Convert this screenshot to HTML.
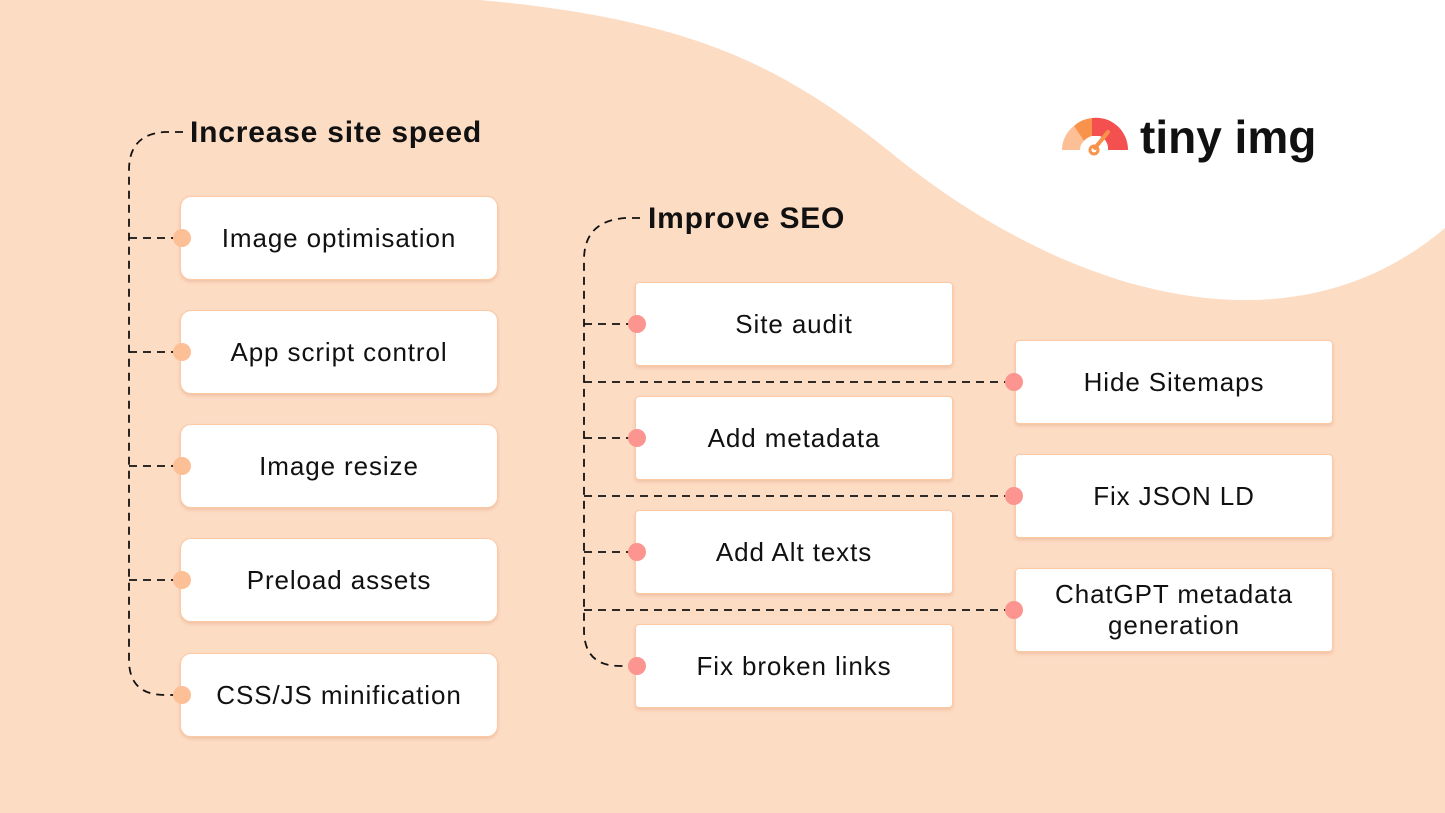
<!DOCTYPE html>
<html><head><meta charset="utf-8"><style>
body{margin:0;width:1445px;height:813px;overflow:hidden;background:#FDDCC4;font-family:"Liberation Sans",sans-serif;position:relative}
svg{position:absolute;left:0;top:0}
.b{position:absolute;background:#fff;width:318px;height:84px;display:flex;align-items:center;justify-content:center;text-align:center;font-size:26px;letter-spacing:0.9px;color:#111;box-shadow:0 2px 3px rgba(200,120,70,.25);border:1px solid #fbc9a4;box-sizing:border-box;line-height:31px}
.l{border-radius:11px}.r{border-radius:4px}
.h{position:absolute;font-size:30px;font-weight:bold;color:#111;letter-spacing:0.8px}
.d{position:absolute;width:18px;height:18px;border-radius:50%}
.o{background:#FDBF96}.p{background:#FC9490}
</style></head><body>
<svg width="1445" height="813">
<path d="M480,0 C700,20 790,70 900,160 C1070,295 1290,360 1445,228 L1445,0 Z" fill="#fff"/>
<g fill="none" stroke="#111" stroke-width="1.8" stroke-dasharray="8,6">
<path d="M183,132 L165,132 Q129,134 129,170 L129,660 Q129,695 165,695 L180,695"/>
<path d="M129,238 H176 M129,352 H176 M129,466 H176 M129,580 H176"/>
<path d="M640,218 L625,218 Q584,221 584,260 L584,630 Q584,666 620,666 L632,666"/>
<path d="M584,324 H630 M584,438 H630 M584,552 H630"/>
<path d="M584,382 H1008 M584,496 H1008 M584,610 H1008"/>
</g>
<g transform="translate(1062,150)">
<path d="M0,0 A30,30 0 0 1 12,-24 L22,-9 A12,12 0 0 0 18,0 Z" fill="#FDBF96"/>
<path d="M12,-24 A30,30 0 0 1 30,-32 L30,-14 A16,16 0 0 0 22,-9 Z" fill="#F9924A"/>
<path d="M30,-32 A32,32 0 0 1 66,0 L46,0 A14,14 0 0 0 38,-14 L30,-14 Z" fill="#F55050"/>
<path d="M33,-2 L46,-18" stroke="#F9924A" stroke-width="4" stroke-linecap="round"/>
<circle cx="32" cy="0" r="4" fill="none" stroke="#F9924A" stroke-width="3"/>
</g>
</svg>
<div style="position:absolute;left:1140px;top:110px;font-size:46px;font-weight:bold;color:#111;letter-spacing:0px">tiny img</div>
<div class="h" style="left:190px;top:116px">Increase site speed</div>
<div class="h" style="left:648px;top:202px">Improve SEO</div>
<div class="b l" style="left:180px;top:196px">Image optimisation</div>
<div class="b l" style="left:180px;top:310px">App script control</div>
<div class="b l" style="left:180px;top:424px">Image resize</div>
<div class="b l" style="left:180px;top:538px">Preload assets</div>
<div class="b l" style="left:180px;top:653px">CSS/JS minification</div>
<div class="b r" style="left:635px;top:282px">Site audit</div>
<div class="b r" style="left:635px;top:396px">Add metadata</div>
<div class="b r" style="left:635px;top:510px">Add Alt texts</div>
<div class="b r" style="left:635px;top:624px">Fix broken links</div>
<div class="b r" style="left:1015px;top:340px">Hide Sitemaps</div>
<div class="b r" style="left:1015px;top:454px">Fix JSON LD</div>
<div class="b r" style="left:1015px;top:568px">ChatGPT metadata<br>generation</div>
<div class="d o" style="left:173px;top:229px"></div>
<div class="d o" style="left:173px;top:343px"></div>
<div class="d o" style="left:173px;top:457px"></div>
<div class="d o" style="left:173px;top:571px"></div>
<div class="d o" style="left:173px;top:686px"></div>
<div class="d p" style="left:628px;top:315px"></div>
<div class="d p" style="left:628px;top:429px"></div>
<div class="d p" style="left:628px;top:543px"></div>
<div class="d p" style="left:628px;top:657px"></div>
<div class="d p" style="left:1005px;top:373px"></div>
<div class="d p" style="left:1005px;top:487px"></div>
<div class="d p" style="left:1005px;top:601px"></div>
</body></html>
